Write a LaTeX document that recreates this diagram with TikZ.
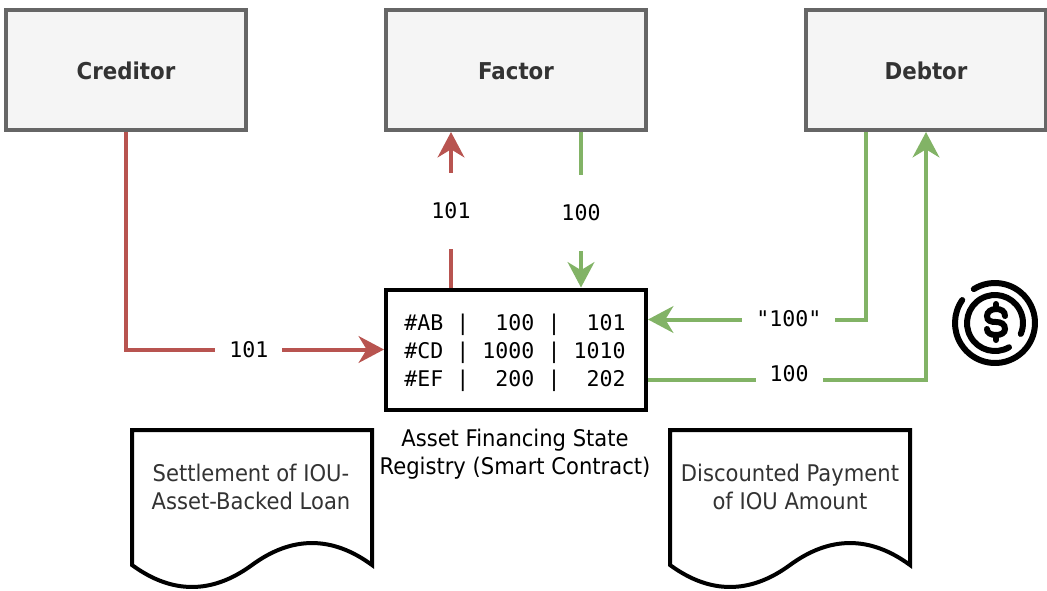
\documentclass[tikz,border=0pt]{standalone}
\usepackage{fontspec}
\setmainfont[FakeStretch=0.92]{DejaVu Sans}
\setmonofont{DejaVu Sans Mono}
\usetikzlibrary{arrows.meta,calc}
\definecolor{boxfill}{HTML}{F5F5F5}
\definecolor{boxline}{HTML}{666666}
\definecolor{boxtext}{HTML}{333333}
\definecolor{redline}{HTML}{B85450}
\definecolor{greenline}{HTML}{82B366}
\newlength{\du}
\setlength{\du}{0.75pt}
\tikzset{
  party/.style={draw=boxline,fill=boxfill,text=boxtext,line width=4\du,minimum height=120\du,inner sep=0pt,text height=14pt,text depth=0pt,font=\fontsize{17.4}{21}\selectfont\bfseries},
  flow/.style={line width=4\du,-{Stealth[length=19pt,width=20pt,inset=6pt]}},
  amount/.style={fill=white,text=black,inner xsep=14\du,inner ysep=2pt,font=\ttfamily\fontsize{16.2}{21}\selectfont},
  upright/.style={inner xsep=2pt,inner ysep=30\du},
  paper/.style={draw=black,fill=white,line width=4\du,line join=miter},
  papertext/.style={align=center,text=boxtext,inner sep=0pt,font=\fontsize{17.2}{21}\selectfont},
  coin/.style={line width=6\du,line cap=round},
}
\begin{document}
\begin{tikzpicture}[yscale=-1]
\useasboundingbox (0\du,0\du) rectangle (1047\du,590\du);
% parties
\node[party,minimum width=240\du] (creditor) at (126\du,70\du) {Creditor};
\node[party,minimum width=260\du] (factor) at (516\du,70\du) {Factor};
\node[party,minimum width=240\du] (debtor) at (926\du,70\du) {Debtor};
% registry
\node[draw=black,line width=4\du,minimum width=260\du,minimum height=120\du] (registry) at (516\du,349.5\du) {};
\node[inner sep=0pt,align=left,font=\ttfamily\fontsize{16.2}{21}\selectfont] (rows) at (515\du,353\du) {\#AB~|~~100~|~~101\\\#CD~|~1000~|~1010\\\#EF~|~~200~|~~202};
\node[align=center,inner sep=0pt,font=\fontsize{17.2}{21}\selectfont] (caption) at (515\du,454\du) {Asset Financing State\\Registry (Smart Contract)};
% end points on the box sides
\coordinate (factorleft) at ($(factor.south)+(-65\du,0)$);
\coordinate (factorright) at ($(factor.south)+(65\du,0)$);
\coordinate (debtorleft) at ($(debtor.south)+(-60\du,0)$);
\coordinate (registryleft) at ($(registry.north)+(-65\du,0)$);
\coordinate (registryright) at ($(registry.north)+(65\du,0)$);
\coordinate (registryupper) at ($(registry.east)+(0,-30\du)$);
\coordinate (registrylower) at ($(registry.east)+(0,30\du)$);
% connectors
\draw[flow,redline] (creditor.south) |- node[amount,pos=0.738] (amounta) {101} (registry.west);
\draw[flow,redline] (registryleft) -- node[amount,upright,pos=0.494] (amountb) {101} (factorleft);
\draw[flow,greenline] (factorright) -- node[amount,upright,pos=0.52] (amountc) {100} (registryright);
\draw[flow,greenline] (debtorleft) |- node[amount,pos=0.677,yshift=1\du] (amountd) {"100"} (registryupper);
\draw[flow,greenline] (registrylower) -| node[amount,pos=0.2536,yshift=6\du] (amounte) {100} (debtor.south);
% documents
\draw[paper] (132\du,430\du) -- (372\du,430\du) -- (372\du,565\du) .. controls (332\du,535.7\du) and (292\du,535.7\du) .. (252\du,565\du) .. controls (212\du,594.3\du) and (172\du,594.3\du) .. (132\du,565\du) -- cycle;
\node[papertext] (settlement) at (251\du,487\du) {Settlement of IOU-\\Asset-Backed Loan};
\draw[paper] (670\du,430\du) -- (910\du,430\du) -- (910\du,565\du) .. controls (870\du,535.7\du) and (830\du,535.7\du) .. (790\du,565\du) .. controls (750\du,594.3\du) and (710\du,594.3\du) .. (670\du,565\du) -- cycle;
\node[papertext] (payment) at (790\du,487\du) {Discounted Payment\\of IOU Amount};
% coin
\draw[coin] (995\du,323\du) ++(238:40\du) arc (238:575:40\du);
\draw[coin] (995\du,323\du) ++(60:28\du) arc (60:383:28\du);
\draw[coin] (1005\du,316\du) .. controls (1005\du,311\du) and (1001\du,309\du) .. (996\du,309\du) .. controls (991\du,309\du) and (987\du,312\du) .. (987\du,316\du) .. controls (987\du,321\du) and (991\du,322\du) .. (996\du,322\du) .. controls (1001\du,322\du) and (1005\du,324\du) .. (1005\du,329\du) .. controls (1005\du,333\du) and (1001\du,335\du) .. (996\du,335\du) .. controls (991\du,335\du) and (987\du,333\du) .. (987\du,329\du);
\draw[coin] (996\du,304\du) -- (996\du,309\du);
\draw[coin] (996\du,335\du) -- (996\du,340\du);
\end{tikzpicture}
\end{document}
